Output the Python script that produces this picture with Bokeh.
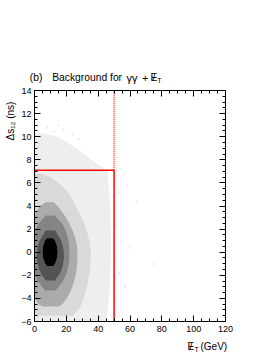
import math
from bokeh.plotting import figure
from bokeh.models import (Range1d, LinearAxis, SingleIntervalTicker, Label,
                          CustomLabelingPolicy)
from bokeh.embed import file_html
from bokeh.resources import INLINE

# ---------------- data ----------------
x_limits = [0, 120]          # MET (GeV)
y_limits = [-6, 14]          # delta s12 (ns)
cut_met = 50                 # vertical cut line (GeV)
cut_dt = 7.1                 # horizontal cut line (ns)

# 2D histogram shown as nested gray levels; each level: rows of y with x extents
lvl_colors = ["#eeeeee", "#d9d9d9", "#ababab", "#858585", "#545454", "#000000"]

lvlA_y = [-6.0, -5.0, -4.0, -2.0, 0.0, 2.0, 4.0, 5.0, 6.0, 7.0, 7.5, 8.0, 8.5, 9.0, 9.5, 10.0, 10.3]
lvlA_xl = [0, 0, 0, 0, 0, 0, 0, 0, 0, 0, 0, 0, 0, 0, 0, 0, 0]
lvlA_xr = [45, 46, 47, 47.5, 48, 48, 47.5, 47, 46.5, 46, 41, 36, 31, 26, 21, 14, 6]

lvlB_y = [-5.5, -5.0, -4.5, -4.0, -3.0, -2.0, -1.0, 0.0, 1.0, 2.0, 3.0, 4.0, 5.0, 5.5, 6.0, 6.5, 6.8]
lvlB_xl = [0, 0, 0, 0, 0, 0, 0, 0, 0, 0, 0, 0, 0, 0, 0, 0, 0]
lvlB_xr = [24, 27.5, 29.5, 31, 33, 34.3, 35.2, 35.5, 34.5, 32.5, 29.5, 26, 22, 19, 15, 10, 5]

lvlC_y = [-4.7, -4.5, -4.0, -3.5, -3.0, -2.5, -2.0, -1.5, -1.0, -0.5, 0.0, 0.5, 1.0, 1.5, 2.0, 2.5, 3.0, 3.5, 4.0, 4.33]
lvlC_xl = [5, 2.5, 0, 0, 0, 0, 0, 0, 0, 0, 0, 0, 0, 0, 0, 0, 0, 1.0, 3.5, 7]
lvlC_xr = [15, 17.5, 20.1, 22.2, 23.8, 24.9, 25.8, 26.4, 26.8, 27, 27, 26.7, 26, 25, 23.5, 21.8, 19.8, 17.3, 14.5, 12]

lvlD_y = [-3.32, -3.0, -2.5, -2.0, -1.5, -1.0, -0.5, 0.0, 0.5, 1.0, 1.5, 2.0, 2.5, 3.0, 3.18]
lvlD_xl = [6.5, 4.8, 2.0, 0.3, 0, 0, 0, 0, 0, 0, 0, 0.75, 2.7, 6.1, 7]
lvlD_xr = [13.5, 15.2, 18.0, 19.7, 20.8, 21.5, 21.9, 22, 21.8, 21.3, 20.5, 19.25, 17.3, 13.9, 13]

lvlE_y = [-2.45, -2.2, -2.0, -1.5, -1.0, -0.5, 0.0, 0.5, 1.0, 1.5, 1.88]
lvlE_xl = [7, 5.9, 4.7, 2.9, 2.0, 1.5, 1.6, 2.1, 3.2, 5.3, 7]
lvlE_xr = [13, 14.1, 15.3, 17.1, 18.0, 18.5, 18.4, 17.9, 16.8, 14.7, 13]

lvlF_y = [-1.2, -1.0, -0.5, 0.0, 0.5, 1.0, 1.2]
lvlF_xl = [8.0, 6.8, 5.5, 5.2, 5.4, 6.6, 8.0]
lvlF_xr = [11.6, 12.8, 14.1, 14.4, 14.1, 12.9, 11.6]

# isolated sparse bins
speck_x = [52, 54, 51, 56, 53, 58, 50.5, 52, 55, 51, 53, 57, 60, 64, 75, 51, 53, 52, 12, 18, 24, 15, 28, 8]
speck_y = [7.6, 7.2, 6.4, 6.8, 5.2, 5.8, 3.8, 2.4, 1.0, -0.6, -1.8, -3.0, 0.4, 4.4, -1.0, -4.2, -5.2, 8.2, 10.4, 10.6, 10.2, 11.0, 9.8, 10.8]

x_tick_step = 20
y_tick_step = 2

FONT = "Liberation Sans"
W, H = 273, 353

p = figure(width=W, height=H,
           x_range=Range1d(x_limits[0], x_limits[1]),
           y_range=Range1d(y_limits[0], y_limits[1]),
           output_backend="svg", toolbar_location=None,
           min_border_left=34, min_border_right=48,
           min_border_top=90, min_border_bottom=32)
p.outline_line_color = None
p.grid.visible = False
p.background_fill_color = "white"
p.border_fill_color = "white"

levels = [(lvlA_y, lvlA_xl, lvlA_xr), (lvlB_y, lvlB_xl, lvlB_xr),
          (lvlC_y, lvlC_xl, lvlC_xr), (lvlD_y, lvlD_xl, lvlD_xr),
          (lvlE_y, lvlE_xl, lvlE_xr), (lvlF_y, lvlF_xl, lvlF_xr)]

for i, (ys, xl, xr) in enumerate(levels):
    p.harea(y=ys, x1=xl, x2=xr, fill_color=lvl_colors[i])
    if i == 0:
        p.rect(x=speck_x, y=speck_y, width=1.2, height=0.22,
               fill_color=lvl_colors[0], line_color=None)

# cut lines
p.line([x_limits[0], cut_met], [cut_dt, cut_dt], line_color="#ff0000", line_width=1.5)
p.line([cut_met, cut_met], [y_limits[0], cut_dt], line_color="#ff0000", line_width=1.5)
p.line([cut_met, cut_met], [cut_dt, y_limits[1]], line_color="#ff0000", line_width=1.2,
       line_dash="1 1")

no_labels = CustomLabelingPolicy(code="return new Set()")

def style_axis(ax, show):
    ax.axis_line_color = "black"
    ax.axis_line_width = 1
    ax.major_tick_in = 6
    ax.major_tick_out = 0
    ax.minor_tick_in = 3
    ax.minor_tick_out = 0
    ax.major_tick_line_color = "black"
    ax.minor_tick_line_color = "black"
    ax.axis_label = None
    ax.major_label_text_font = FONT
    ax.major_label_text_color = "black"
    ax.major_label_text_font_size = "9px"
    if show:
        ax.major_label_standoff = 4
    else:
        ax.major_label_policy = no_labels
        ax.major_label_standoff = 0

p.xaxis[0].ticker = SingleIntervalTicker(interval=x_tick_step, num_minor_ticks=4)
p.yaxis[0].ticker = SingleIntervalTicker(interval=y_tick_step, num_minor_ticks=4)
style_axis(p.xaxis[0], True)
style_axis(p.yaxis[0], True)
p.yaxis[0].major_label_standoff = 3

top = LinearAxis(ticker=SingleIntervalTicker(interval=x_tick_step, num_minor_ticks=4))
style_axis(top, False)
p.add_layout(top, "above")
right = LinearAxis(ticker=SingleIntervalTicker(interval=y_tick_step, num_minor_ticks=4))
style_axis(right, False)
p.add_layout(right, "right")

def lab(text, x, y, side, size="10px", align="left", angle=0.0):
    # labels live in side panels (not clipped to the frame); canvas coordinates
    p.add_layout(Label(x=x, y=y, x_units="canvas", y_units="canvas", text=text,
                       text_font=FONT, text_font_size=size, text_color="black",
                       text_align=align, text_baseline="alphabetic", angle=angle),
                 side)

# title
lab("(b)", 29.3, 77, "above", size="10.3px")
lab("Background for", 51.7, 77, "above", size="10.3px")
lab("\u03b3\u03b3", 126, 77, "above", size="11px")
lab("+", 141.7, 77, "above", size="10.3px")
lab("E", 150, 77, "above", size="10.3px")
lab("/", 153.4, 77, "above", size="10.3px", align="center")
lab("T", 156.8, 80, "above", size="7px")

# x-axis label
lab("E", 187, 346, "right")
lab("/", 190.5, 346, "right", align="center")
lab("T", 194, 349, "right", size="7px")
lab("(GeV)", 200, 346, "below")

# y-axis label (rotated)
lab("\u0394s\u2081\u2082 (ns)", 10, 140, "left", angle=math.pi / 2)

open("out.html", "w").write(file_html(p, INLINE))
